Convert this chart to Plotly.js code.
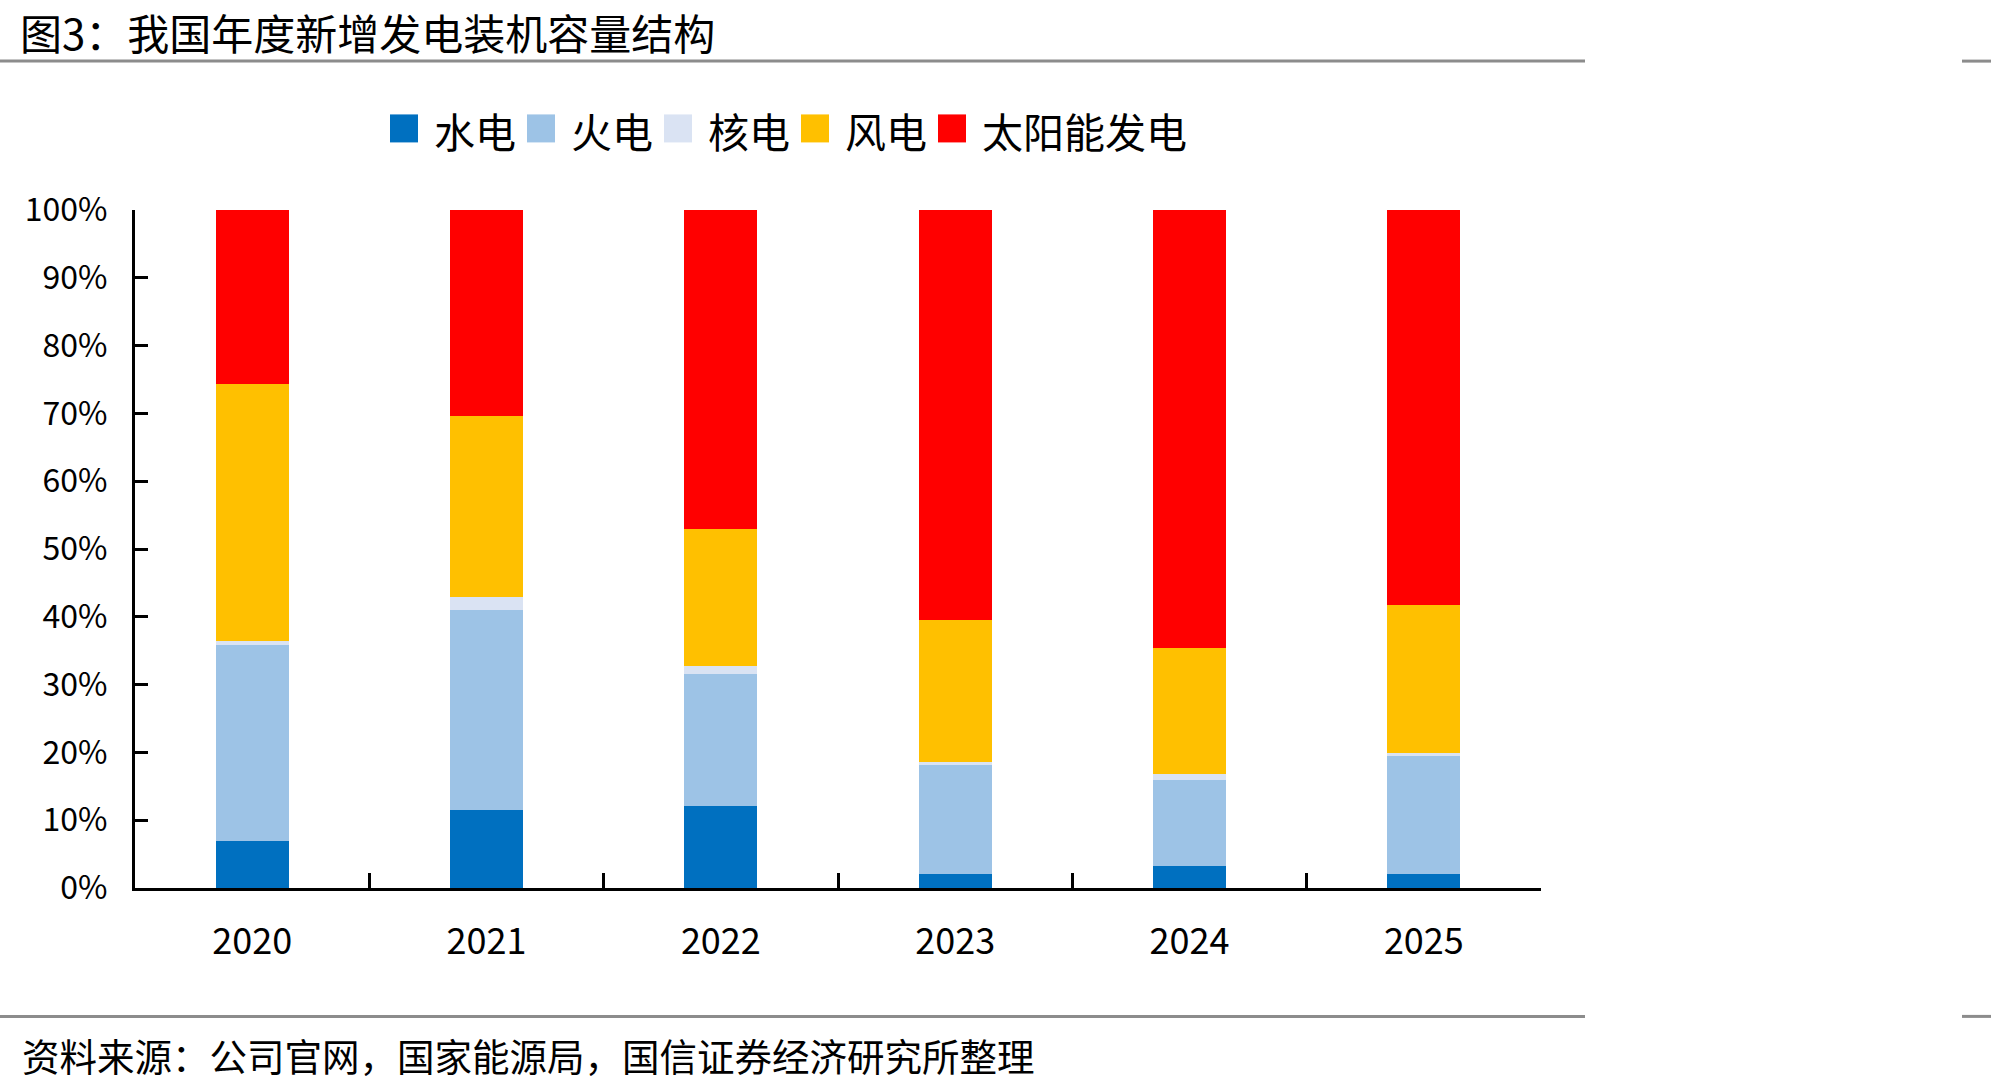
<!DOCTYPE html>
<html>
<head>
<meta charset="utf-8">
<script src="https://cdn.plot.ly/plotly-3.0.1.min.js"></script>
<style>
  html, body { margin: 0; padding: 0; background: #ffffff; }
  #chart { width: 1991px; height: 1089px; }
</style>
</head>
<body>
<div id="chart"></div>
<script>
// ---- data (share of annual new installed capacity, %) ----
const years = ['2020', '2021', '2022', '2023', '2024', '2025'];
const hydro   = [7.0, 11.5, 12.1, 2.0, 3.3, 2.1];
const thermal = [28.9, 29.5, 19.5, 16.1, 12.7, 17.4];
const nuclear = [0.6, 1.9, 1.2, 0.5, 0.8, 0.4];
const wind    = [37.8, 26.7, 20.1, 20.9, 18.6, 21.9];
const solar   = [25.7, 30.4, 47.1, 60.5, 64.6, 58.2];
const seriesNames = ['水电', '火电', '核电', '风电', '太阳能发电'];
const yTickVals = [0, 10, 20, 30, 40, 50, 60, 70, 80, 90, 100];
const yTickText = ['0%', '10%', '20%', '30%', '40%', '50%', '60%', '70%', '80%', '90%', '100%'];

const titleText = '图3：我国年度新增发电装机容量结构';
const sourceText = '资料来源：公司官网，国家能源局，国信证券经济研究所整理';

const colors = ['#0070C0', '#9DC3E6', '#DAE3F3', '#FFC000', '#FF0000'];
const FONT = '"Noto Sans CJK SC", "Noto Sans", sans-serif';

const seriesData = [hydro, thermal, nuclear, wind, solar];
const traces = seriesData.map((vals, i) => ({
  type: 'bar',
  name: seriesNames[i],
  x: years,
  y: vals,
  marker: { color: colors[i], line: { width: 0 } },
  hoverinfo: 'x+y+name'
}));

// geometry helpers (plot area: x 135..1541, y 210..888.5)
const L = 135, R = 1541, T = 210, B = 888.5, W = 1991, H = 1089;
const pw = R - L, ph = B - T;
const px = v => (v - L) / pw;
const py = v => (B - v) / ph;

const grayLine = { color: '#8c8c8c', width: 3 };
const shapes = [
  { type: 'line', xref: 'paper', yref: 'paper', x0: px(0), x1: px(1585), y0: py(61), y1: py(61), line: grayLine },
  { type: 'line', xref: 'paper', yref: 'paper', x0: px(1962), x1: px(1991), y0: py(61), y1: py(61), line: grayLine },
  { type: 'line', xref: 'paper', yref: 'paper', x0: px(0), x1: px(1585), y0: py(1017), y1: py(1017), line: grayLine },
  { type: 'line', xref: 'paper', yref: 'paper', x0: px(1962), x1: px(1991), y0: py(1017), y1: py(1017), line: grayLine }
];

const layout = {
  width: W, height: H,
  paper_bgcolor: '#ffffff', plot_bgcolor: '#ffffff',
  margin: { l: L, r: W - R, t: T, b: H - B, pad: 0 },
  barmode: 'stack',
  bargap: 0.688,
  font: { family: FONT, color: '#000000' },
  showlegend: true,
  legend: {
    orientation: 'h',
    traceorder: 'normal',
    x: px(394), xanchor: 'left',
    y: py(99), yanchor: 'top',
    font: { family: FONT, size: 41, color: '#000000' },
    entrywidth: 92, entrywidthmode: 'pixels',
    bgcolor: 'rgba(0,0,0,0)', borderwidth: 0
  },
  xaxis: {
    type: 'category',
    showline: true, linecolor: '#000000', linewidth: 3,
    ticks: 'inside', tickson: 'boundaries', ticklen: 15, tickwidth: 3, tickcolor: '#000000',
    tickfont: { family: FONT, size: 36, color: '#000000' },
    ticklabelstandoff: 20,
    showgrid: false, zeroline: false, fixedrange: true
  },
  yaxis: {
    range: [0, 100],
    tickmode: 'array',
    tickvals: yTickVals,
    ticktext: yTickText,
    showline: true, linecolor: '#000000', linewidth: 3,
    ticks: 'inside', ticklen: 13, tickwidth: 3, tickcolor: '#000000',
    tickfont: { family: FONT, size: 32, color: '#000000' },
    ticklabelstandoff: 18,
    showgrid: false, zeroline: false, fixedrange: true
  },
  shapes: shapes,
  annotations: [
    {
      text: titleText,
      xref: 'paper', yref: 'paper',
      x: px(19), xanchor: 'left',
      y: py(0), yanchor: 'top',
      borderpad: 0,
      showarrow: false,
      font: { family: FONT, size: 42, color: '#000000' }
    },
    {
      text: sourceText,
      xref: 'paper', yref: 'paper',
      x: px(20), xanchor: 'left',
      y: py(1055), yanchor: 'middle',
      showarrow: false,
      font: { family: FONT, size: 37.5, color: '#000000' }
    }
  ]
};

function fixLegend() {
  const gd = document.getElementById('chart');
  gd.querySelectorAll('.legend .scrollbox').forEach(s => s.removeAttribute('clip-path'));
  gd.querySelectorAll('.legend [clip-path]').forEach(s => s.removeAttribute('clip-path'));
  gd.querySelectorAll('.legend .traces').forEach(tr => {
    const txt = tr.querySelector('text.legendtext');
    const path = tr.querySelector('.legendpoints path');
    if (!txt || !path) return;
    const bb = txt.getBBox();
    const rel = tr.getCTM().inverse().multiply(path.getCTM());
    const size = 28;
    const right = bb.x - 16;
    const left = right - size;
    const cy = bb.y + bb.height * 0.47;
    const toPX = X => (X - rel.e) / rel.a;
    const toPY = Y => (Y - rel.f) / rel.d;
    const x0 = toPX(left), x1 = toPX(right);
    const y0 = toPY(cy - size / 2), y1 = toPY(cy + size / 2);
    path.setAttribute('d', `M${x0},${y0}H${x1}V${y1}H${x0}Z`);
    path.style.strokeWidth = '0px';
  });
}

Plotly.newPlot('chart', traces, layout, { staticPlot: true, displayModeBar: false })
  .then(fixLegend);
</script>
</body>
</html>
